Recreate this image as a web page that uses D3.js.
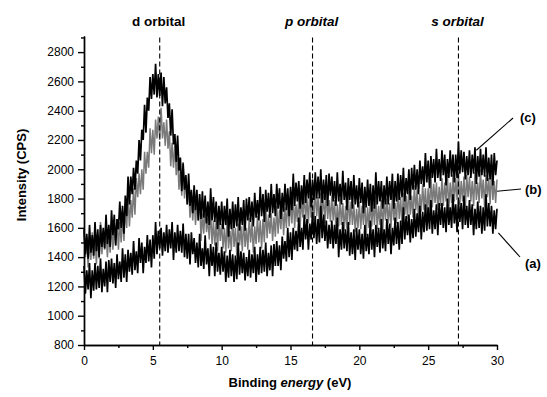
<!DOCTYPE html>
<html>
<head>
<meta charset="utf-8">
<script src="https://cdn.jsdelivr.net/npm/d3@7/dist/d3.min.js"></script>
<style>
  html, body { margin: 0; padding: 0; background: #fff; }
  svg { display: block; font-family: "Liberation Sans", Arial, sans-serif; }
  .axis path, .axis line { stroke: #000; stroke-width: 1.4px; }
  .axis text { font-size: 12px; fill: #000; }
</style>
</head>
<body>
<svg id="chart" width="547" height="397"></svg>
<script>
// Valence-band spectra, one reading every 0.1 eV from 0 to 30 eV (one row = 1 eV)
const energyStep = 0.1;

// Intensity (CPS) of spectrum (a)
const seriesA = [
  1340,1150,1310,1180,1360,1120,1310,1170,1360,1180,
  1340,1190,1390,1160,1320,1200,1370,1160,1380,1230,
  1390,1220,1360,1190,1420,1250,1370,1230,1460,1260,
  1420,1230,1450,1300,1430,1280,1510,1310,1440,1290,
  1530,1360,1500,1290,1470,1360,1550,1370,1520,1330,
  1550,1390,1640,1420,1580,1460,1600,1410,1570,1440,
  1620,1430,1590,1460,1640,1380,1570,1430,1620,1440,
  1580,1430,1630,1400,1560,1390,1560,1350,1570,1420,
  1530,1360,1500,1330,1560,1340,1460,1320,1550,1350,
  1460,1270,1490,1340,1470,1270,1500,1300,1430,1280,
  1470,1300,1440,1230,1410,1260,1450,1270,1420,1230,
  1410,1250,1500,1280,1440,1290,1430,1240,1400,1270,
  1450,1260,1420,1290,1470,1230,1420,1280,1470,1290,
  1450,1300,1500,1270,1430,1310,1480,1270,1490,1340,
  1510,1340,1480,1310,1540,1390,1510,1370,1600,1400,
  1570,1380,1600,1450,1580,1440,1670,1470,1600,1450,
  1690,1520,1660,1450,1630,1520,1710,1530,1680,1490,
  1660,1500,1750,1530,1690,1510,1650,1460,1620,1490,
  1650,1460,1620,1490,1670,1400,1590,1450,1640,1460,
  1590,1440,1640,1410,1570,1420,1590,1380,1600,1450,
  1590,1420,1560,1390,1620,1440,1560,1420,1650,1450,
  1590,1400,1620,1470,1600,1430,1660,1460,1590,1440,
  1660,1490,1630,1420,1600,1480,1670,1490,1640,1450,
  1650,1490,1740,1520,1680,1550,1690,1500,1660,1530,
  1730,1540,1700,1570,1750,1520,1710,1570,1760,1580,
  1740,1590,1790,1560,1720,1590,1760,1550,1770,1620,
  1770,1600,1740,1570,1800,1620,1740,1600,1830,1630,
  1760,1570,1790,1640,1770,1590,1820,1620,1750,1600,
  1790,1620,1760,1550,1730,1590,1780,1600,1750,1560,
  1740,1580,1830,1610,1770,1610,1750,1560,1720,1590,
  1730
];

// Intensity (CPS) of spectrum (b)
const seriesB = [
  1570,1400,1540,1330,1510,1380,1570,1390,1540,1350,
  1550,1390,1640,1420,1580,1450,1590,1400,1560,1430,
  1640,1450,1610,1480,1660,1450,1640,1500,1690,1510,
  1730,1600,1820,1610,1790,1670,1870,1690,1940,1810,
  1970,1830,2000,1860,2120,1970,2120,2010,2280,2110,
  2270,2100,2340,2210,2360,2200,2420,2210,2320,2160,
  2340,2140,2260,2020,2180,2010,2170,1960,2080,1860,
  2010,1820,2050,1800,1940,1760,1880,1670,1800,1650,
  1810,1620,1780,1650,1830,1510,1700,1560,1750,1570,
  1670,1520,1720,1490,1650,1480,1650,1440,1660,1510,
  1630,1460,1600,1430,1660,1460,1580,1440,1670,1470,
  1600,1410,1630,1480,1610,1440,1670,1470,1600,1450,
  1670,1500,1640,1430,1610,1490,1680,1500,1650,1460,
  1660,1500,1750,1530,1690,1560,1700,1510,1670,1540,
  1750,1560,1720,1590,1770,1550,1740,1600,1790,1610,
  1780,1630,1830,1600,1760,1640,1810,1600,1820,1670,
  1830,1660,1800,1630,1860,1670,1790,1650,1880,1680,
  1810,1620,1840,1690,1820,1630,1860,1660,1790,1640,
  1820,1650,1790,1580,1760,1610,1800,1620,1770,1580,
  1750,1590,1840,1620,1780,1620,1760,1570,1730,1600,
  1780,1590,1750,1620,1800,1550,1740,1600,1790,1610,
  1770,1620,1820,1590,1750,1620,1790,1580,1800,1650,
  1800,1630,1770,1600,1830,1650,1770,1630,1860,1660,
  1810,1620,1840,1690,1820,1660,1890,1690,1820,1670,
  1890,1720,1860,1650,1830,1710,1900,1720,1870,1680,
  1870,1710,1960,1740,1900,1770,1910,1720,1880,1750,
  1940,1750,1910,1780,1960,1720,1910,1770,1960,1780,
  1940,1790,1990,1760,1920,1780,1950,1740,1960,1810,
  1950,1780,1920,1750,1980,1790,1910,1770,2000,1800,
  1930,1740,1960,1810,1940,1760,1990,1790,1920,1770,
  1930
];

// Intensity (CPS) of spectrum (c)
const seriesC = [
  1590,1420,1560,1390,1620,1430,1550,1410,1640,1440,
  1590,1400,1620,1470,1600,1460,1690,1490,1620,1470,
  1720,1550,1690,1480,1660,1590,1780,1600,1750,1560,
  1820,1680,1950,1760,1950,1830,2010,1860,2060,1970,
  2200,2060,2270,2200,2440,2250,2490,2400,2630,2480,
  2650,2510,2720,2490,2650,2500,2660,2430,2630,2450,
  2560,2350,2450,2230,2410,2170,2240,2050,2230,1990,
  2080,1850,2040,1860,1960,1760,1970,1750,1860,1700,
  1890,1720,1860,1650,1830,1660,1850,1670,1820,1630,
  1780,1620,1870,1650,1810,1640,1780,1590,1750,1620,
  1780,1590,1750,1620,1800,1540,1730,1590,1780,1600,
  1760,1610,1810,1580,1740,1620,1790,1580,1800,1650,
  1810,1640,1780,1610,1840,1670,1790,1650,1880,1680,
  1830,1640,1860,1710,1840,1670,1900,1700,1830,1680,
  1900,1730,1870,1660,1840,1710,1900,1720,1870,1680,
  1880,1720,1970,1750,1910,1780,1920,1730,1890,1760,
  1960,1770,1930,1800,1980,1740,1930,1790,1980,1800,
  1950,1800,2000,1770,1930,1790,1960,1750,1970,1820,
  1950,1780,1920,1750,1980,1780,1900,1760,1990,1790,
  1910,1720,1940,1790,1920,1730,1960,1760,1890,1740,
  1940,1770,1910,1700,1880,1740,1930,1750,1900,1710,
  1890,1730,1980,1760,1920,1780,1920,1730,1890,1760,
  1950,1760,1920,1790,1970,1730,1920,1780,1970,1790,
  1960,1810,2010,1780,1940,1830,2000,1790,2010,1860,
  2030,1860,2000,1830,2060,1900,2020,1880,2110,1910,
  2060,1870,2090,1940,2070,1910,2140,1940,2070,1920,
  2130,1960,2100,1890,2070,1940,2130,1950,2100,1910,
  2100,1940,2190,1970,2130,1980,2120,1930,2090,1960,
  2130,1940,2100,1970,2150,1900,2090,1950,2140,1960,
  2100,1950,2150,1920,2080,1930,2100,1890,2110,1960,
  2060
];

// Orbital reference positions (eV)
const orbitalLabels = ["d orbital", "p orbital", "s orbital"];
const orbitalEnergies = [5.5, 16.6, 27.2];
const orbitalItalic = [false, true, true];

// Axis ticks
const xTicks = [0, 5, 10, 15, 20, 25, 30];
const xMinorTicks = [2.5, 7.5, 12.5, 17.5, 22.5, 27.5];
const yTicks = [800, 1000, 1200, 1400, 1600, 1800, 2000, 2200, 2400, 2600, 2800];
const yMinorTicks = [900, 1100, 1300, 1500, 1700, 1900, 2100, 2300, 2500, 2700, 2900];

// Series tags and the point each leader line points at [eV, CPS]
const seriesTags = ["(a)", "(b)", "(c)"];
const tagTargets = [[30.1, 1565], [30, 1850], [28.5, 2130]];

const svg = d3.select("#chart");

const x = d3.scaleLinear().domain([0, 30]).range([84, 497]);
const y = d3.scaleLinear().domain([800, 2910]).range([345, 36]);

// Spectra: (b) in grey underneath, (a) and (c) in black
const line = d3.line()
  .x((d, i) => x(i * energyStep))
  .y(d => y(d));

const spectra = [
  { values: seriesB, color: "#7a7a7a", width: 1.5 },
  { values: seriesA, color: "#000", width: 1.7 },
  { values: seriesC, color: "#000", width: 1.7 }
];
svg.append("g").selectAll("path")
  .data(spectra)
  .join("path")
  .attr("d", d => line(d.values))
  .attr("fill", "none")
  .attr("stroke", d => d.color)
  .attr("stroke-width", d => d.width)
  .attr("stroke-linejoin", "bevel");

// Dashed orbital markers
svg.append("g").selectAll("line")
  .data(orbitalEnergies)
  .join("line")
  .attr("x1", d => x(d)).attr("x2", d => x(d))
  .attr("y1", y(2900)).attr("y2", y(800))
  .attr("stroke", "#000")
  .attr("stroke-width", 1.1)
  .attr("stroke-dasharray", "5,3");

svg.append("g").selectAll("text")
  .data(orbitalLabels)
  .join("text")
  .attr("x", (d, i) => x(orbitalEnergies[i]) - 1)
  .attr("y", 26)
  .attr("text-anchor", "middle")
  .attr("font-size", 13.5)
  .attr("font-weight", "bold")
  .attr("font-style", (d, i) => orbitalItalic[i] ? "italic" : "normal")
  .text(d => d);

// Axes
const yAxisMinor = d3.axisLeft(y).tickValues(yMinorTicks).tickSize(3).tickSizeOuter(0).tickFormat("");
const yAxis = d3.axisLeft(y).tickValues(yTicks).tickSize(6).tickSizeOuter(0).tickPadding(4).tickFormat(d3.format("d"));
svg.append("g").attr("class", "axis").attr("transform", "translate(84,0)").call(yAxisMinor);
svg.append("g").attr("class", "axis").attr("transform", "translate(84,0)").call(yAxis);

const xAxisMinor = d3.axisBottom(x).tickValues(xMinorTicks).tickSize(3).tickSizeOuter(0).tickFormat("");
const xAxis = d3.axisBottom(x).tickValues(xTicks).tickSize(5).tickSizeOuter(0).tickPadding(6).tickFormat(d3.format("d"));
svg.append("g").attr("class", "axis").attr("transform", "translate(0,345)").call(xAxisMinor);
svg.append("g").attr("class", "axis").attr("transform", "translate(0,345)").call(xAxis);

// Axis titles
svg.append("text")
  .attr("transform", "translate(26,175) rotate(-90)")
  .attr("text-anchor", "middle")
  .attr("font-size", 13)
  .attr("font-weight", "bold")
  .text("Intensity (CPS)");

const xTitle = svg.append("text")
  .attr("x", 290).attr("y", 387)
  .attr("text-anchor", "middle")
  .attr("font-size", 13)
  .attr("font-weight", "bold");
xTitle.append("tspan").text("Binding ");
xTitle.append("tspan").attr("font-style", "italic").text("energy");
xTitle.append("tspan").text(" (eV)");

// Series tags with leader lines
const tagPos = [[525, 268, 520, 257], [525, 194, 521, 189], [520, 122, 513, 118]];
seriesTags.forEach((t, i) => {
  const [tx, ty, lx, ly] = tagPos[i];
  svg.append("line")
    .attr("x1", x(tagTargets[i][0])).attr("y1", y(tagTargets[i][1]))
    .attr("x2", lx).attr("y2", ly)
    .attr("stroke", "#000").attr("stroke-width", 1.1);
  svg.append("text")
    .attr("x", tx).attr("y", ty)
    .attr("font-size", 13)
    .attr("font-weight", "bold")
    .text(t);
});
</script>
</body>
</html>
